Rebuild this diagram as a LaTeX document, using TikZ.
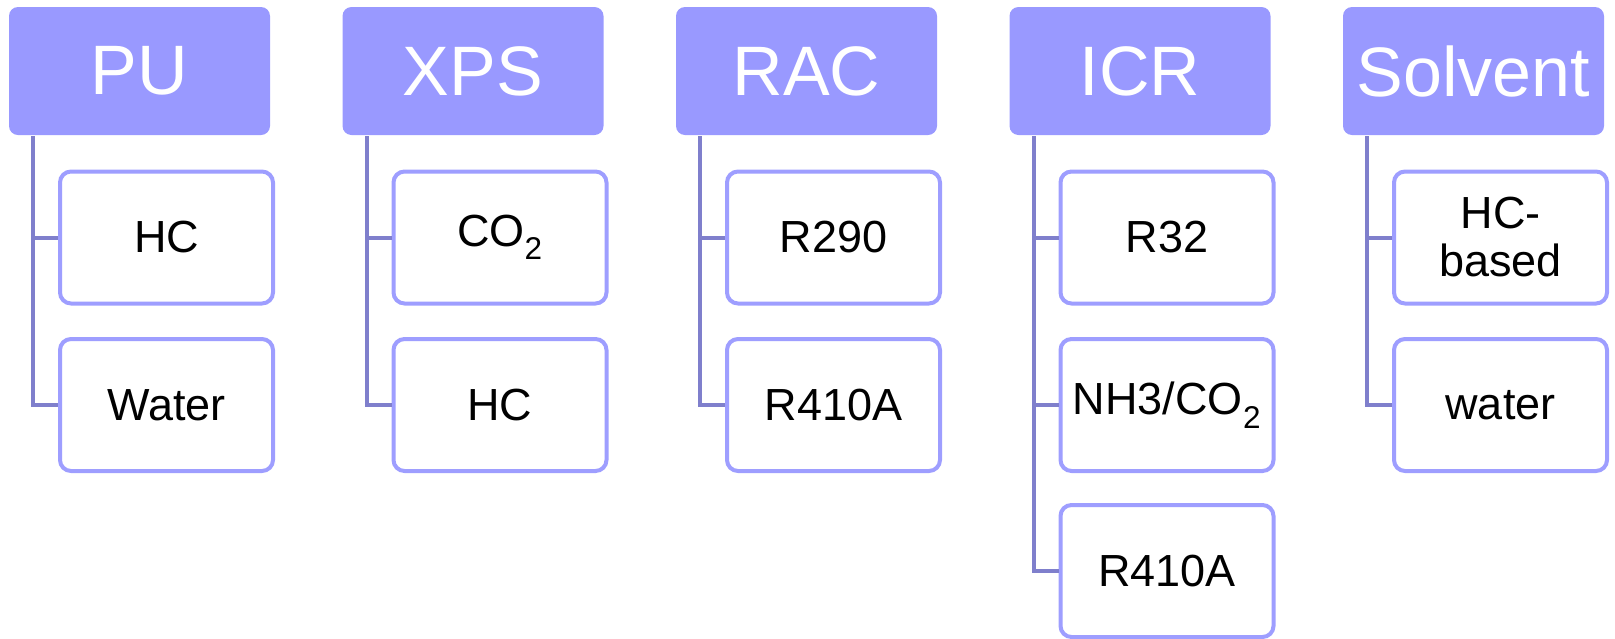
\documentclass[tikz,border=0pt]{standalone}
\usepackage{fontspec}
\setmainfont{Liberation Sans}
\definecolor{hdr}{HTML}{9999FF}
\definecolor{cbord}{HTML}{9E9EFF}
\definecolor{conn}{HTML}{7F7FCC}
\begin{document}
\begin{tikzpicture}[x=1pt,y=-1pt,
  hdrbox/.style={rectangle,fill=hdr,rounded corners=9pt,minimum width=261pt,minimum height=128pt,inner sep=0pt,text=white,font=\fontsize{70}{80}\selectfont},
  childbox/.style={rectangle,draw=cbord,line width=4pt,fill=white,rounded corners=11pt,minimum width=213pt,minimum height=132pt,inner sep=0pt,align=center,font=\fontsize{45}{48}\selectfont},
  link/.style={draw=conn,line width=4pt}]
\useasboundingbox (0,0) rectangle (1615,638);
% headers
\node[hdrbox] (h1) at (139.5,71) {PU};
\node[hdrbox] (h2) at (473,71) {XPS};
\node[hdrbox] (h3) at (806.5,71) {RAC};
\node[hdrbox] (h4) at (1140,71) {ICR};
\node[hdrbox] (h5) at (1473.5,71) {Solvent};
% children
\node[childbox] (c11) at (166.5,237.5) {HC};
\node[childbox] (c12) at (166.5,405) {Water};
\node[childbox] (c21) at (500,237.5) {CO\textsubscript{2}};
\node[childbox] (c22) at (500,405) {HC};
\node[childbox] (c31) at (833.5,237.5) {R290};
\node[childbox] (c32) at (833.5,405) {R410A};
\node[childbox] (c41) at (1167,237.5) {R32};
\node[childbox] (c42) at (1167,405) {NH3/CO\textsubscript{2}};
\node[childbox] (c43) at (1167,571) {R410A};
\node[childbox] (c51) at (1500.5,237.5) {HC-\\based};
\node[childbox] (c52) at (1500.5,405) {water};
% connectors
\foreach \h/\c in {h1/c11,h1/c12,h2/c21,h2/c22,h3/c31,h3/c32,h4/c41,h4/c42,h4/c43,h5/c51,h5/c52}{
  \draw[link] ([xshift=24.5pt,yshift=-1pt]\h.south west) |- (\c.west);
}
\end{tikzpicture}
\end{document}
